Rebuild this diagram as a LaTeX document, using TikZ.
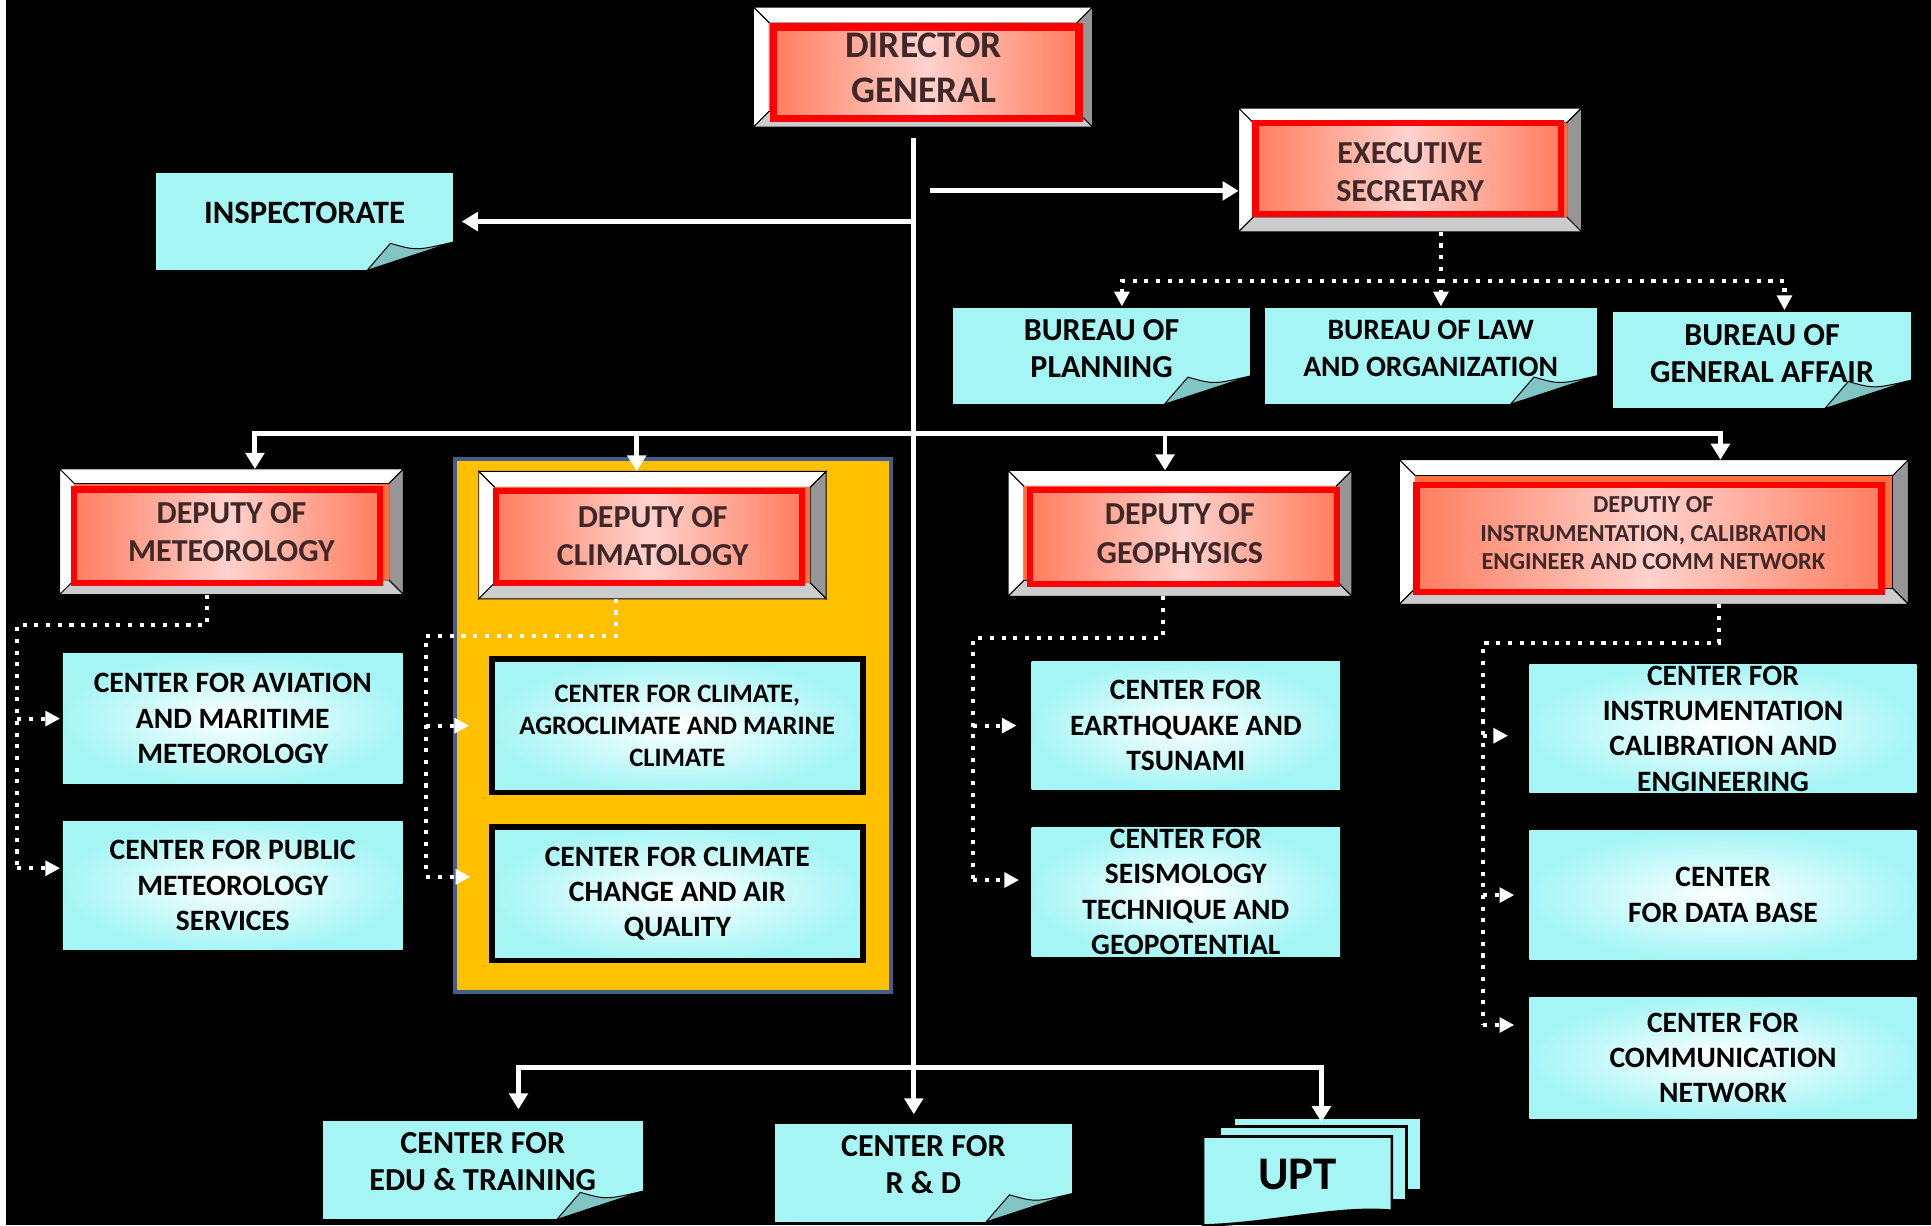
\documentclass[tikz,border=0pt]{standalone}
\usepackage{fontspec}
\setmainfont{Carlito}
\usepackage{tikz}
\usetikzlibrary{positioning,arrows.meta,calc}

\definecolor{notecyan}{RGB}{166,245,245}
\definecolor{foldteal}{RGB}{128,196,196}
\definecolor{climgold}{RGB}{255,192,0}
\definecolor{climedge}{RGB}{65,95,140}
\definecolor{bevdark}{RGB}{150,150,150}
\definecolor{bevlight}{RGB}{204,204,204}
\definecolor{depface}{RGB}{255,110,60}
\definecolor{depedge}{RGB}{255,125,95}
\definecolor{depmid}{RGB}{255,210,205}
\definecolor{deptext}{RGB}{64,40,40}

\newcommand{\bsize}[2]{\fontsize{#1}{#2}\selectfont\bfseries}

% bevelled frame round an empty holder node: #1 node, #2 bevel width
\newcommand{\bevel}[2]{%
  \coordinate (bnw) at (#1.north west);
  \coordinate (bne) at (#1.north east);
  \coordinate (bsw) at (#1.south west);
  \coordinate (bse) at (#1.south east);
  \filldraw[fill=white, draw=black, line width=0.8pt]
    (bnw) -- (bne) -- ($(bne)+(-#2,#2)$) -- ($(bnw)+(#2,#2)$) -- cycle;
  \filldraw[fill=white, draw=black, line width=0.8pt]
    (bnw) -- ($(bnw)+(#2,#2)$) -- ($(bsw)+(#2,-#2)$) -- (bsw) -- cycle;
  \filldraw[fill=bevdark, draw=black, line width=0.8pt]
    (bne) -- (bse) -- ($(bse)+(-#2,-#2)$) -- ($(bne)+(-#2,#2)$) -- cycle;
  \filldraw[fill=bevlight, draw=black, line width=0.8pt]
    (bsw) -- (bse) -- ($(bse)+(-#2,-#2)$) -- ($(bsw)+(#2,-#2)$) -- cycle;
  \fill[depface] ($(bnw)+(#2,#2)$) rectangle ($(bse)+(-#2,-#2)$);
}

% peeled corner of a note node
\newcommand{\peel}[1]{%
  \fill[black] ($(#1.south east)+(-70,0)$) -- (#1.south east)
    -- ($(#1.south east)+(0,-23)$) -- cycle;
  \filldraw[fill=foldteal, draw=black, line width=0.8pt]
    ($(#1.south east)+(-70,0)$) -- ($(#1.south east)+(-51,-22)$)
    .. controls ($(#1.south east)+(-30,-16)$) .. ($(#1.south east)+(0,-23)$) -- cycle;
}

\begin{document}
\begin{tikzpicture}[
    x=1pt, y=-1pt,
    ln/.style     = {white, line width=4pt},
    arr/.style    = {ln, -{Triangle[width=15pt,length=13pt]}},
    dotln/.style  = {white, line width=3.3pt, dash pattern=on 3.3pt off 6.2pt},
    dotarr/.style = {dotln, -{Triangle[width=12pt,length=12pt]}},
    holder/.style = {rectangle, inner sep=0pt},
    dep/.style    = {rectangle, inner sep=0pt, draw=red, line width=5pt,
                     left color=depedge, right color=depedge, middle color=depmid},
    deptxt/.style = {align=center, text=deptext, font=\bsize{26}{31}},
    note/.style   = {rectangle, inner sep=0pt, fill=notecyan},
    ntxt/.style   = {align=center, text=black, font=\bsize{26}{30}},
    ctr/.style    = {rectangle, inner sep=0pt, inner color=white, outer color=notecyan,
                     align=center, text=black, font=\bsize{24}{28.7}},
    cbox/.style   = {ctr, draw=black, line width=4.6pt},
    page/.style   = {rectangle, inner sep=0pt, fill=notecyan, draw=black, line width=2.2pt},
]

%% ── Background ────────────────────────────────────────────────────────────
\fill[white] (0,0) rectangle (5,995);
\fill[black] (5,0) rectangle (1568,995);
\useasboundingbox (0,0) rectangle (1568,995);

%% ── Director General ──────────────────────────────────────────────────────
\node[holder, minimum width=275pt, minimum height=97pt] (dgf) at (749.5,54.5) {};
\bevel{dgf}{13}
\node[dep, line width=6pt, minimum width=248pt, minimum height=74pt] (dg) at (752,59) {};
\node[deptxt, font=\bsize{30.5}{36}, at=(dg.center), xshift=-2pt, yshift=4pt]
  {DIRECTOR\\GENERAL};

\coordinate (trunk) at (742,112);

%% ── Inspectorate ──────────────────────────────────────────────────────────
\node[note, minimum width=241pt, minimum height=79pt] (insp) at (247.3,179.9) {};
\peel{insp}
\node[ntxt, font=\bsize{26.5}{30}, at=(insp.center), yshift=7pt] {INSPECTORATE};
\draw[arr, shorten >=7pt] (trunk |- insp.east) -- (insp.east);

%% ── Executive secretary ───────────────────────────────────────────────────
\node[holder, minimum width=278pt, minimum height=100pt] (esf) at (1145,138) {};
\bevel{esf}{12}
\node[dep, minimum width=248pt, minimum height=74pt] (es) at (1143.5,137) {};
\node[deptxt, at=(es.center), xshift=1.5pt, yshift=-2.5pt] {EXECUTIVE\\SECRETARY};

\coordinate (esrc) at (755,155);
\draw[arr] (esrc) -- (esrc -| esf.west);

%% ── Bureaus ───────────────────────────────────────────────────────────────
\node[note, minimum width=241.8pt, minimum height=78pt]   (bplan) at (894.5,289) {};
\node[note, minimum width=269.4pt, minimum height=78pt]   (blaw)  at (1161.7,289) {};
\node[note, minimum width=241.6pt, minimum height=78.5pt] (bga)   at (1430.8,292.3) {};
\peel{bplan}
\peel{blaw}
\peel{bga}
\node[ntxt, at=(bplan.center), yshift=6pt] {BUREAU OF\\PLANNING};
\node[ntxt, font=\bsize{24}{30}, at=(blaw.center), yshift=6pt]
  {BUREAU OF LAW\\AND ORGANIZATION};
\node[ntxt, at=(bga.center), yshift=5pt] {BUREAU OF\\GENERAL AFFAIR};

\coordinate (bj) at (1170,228);
\coordinate (bl) at (911,228);
\coordinate (br) at (1449,228);
\draw[dotarr, shorten >=1pt] (bj |- esf.south) -- (bj) -- (bj |- blaw.north);
\draw[dotarr, shorten >=1pt] (bj) -- (bl) -- (bl |- bplan.north);
\draw[dotarr, shorten >=1pt] (bj) -- (br) -- (br |- bga.north);

%% ── Deputy of meteorology ─────────────────────────────────────────────────
\node[holder, minimum width=278.7pt, minimum height=101.6pt] (dmf) at (188,431.8) {};
\bevel{dmf}{12}
\node[dep, minimum width=248.7pt, minimum height=75.8pt] (dm) at (184.5,435.4) {};
\node[deptxt, at=(dm.center), xshift=3.5pt, yshift=3pt] {DEPUTY OF\\METEOROLOGY};

\node[ctr, minimum width=276pt, minimum height=105pt] (cav) at (189,583.5)
  {CENTER FOR AVIATION\\AND MARITIME\\METEOROLOGY};
\node[ctr, minimum width=276pt, minimum height=104pt] (cpub) at (189,719)
  {CENTER FOR PUBLIC\\METEOROLOGY\\SERVICES};

\coordinate (mt)  at (168,507.5);
\coordinate (mj)  at (14,507.5);
\coordinate (mjb) at (14,705);
\draw[dotln] (mt |- dmf.south) -- (mt) -- (mj) -- (mjb);
\draw[dotarr, shorten >=2pt] (mj |- cav.west) -- (cav.west);
\draw[dotarr, shorten >=2pt] (mjb) -- (mjb -| cpub.west);

%% ── Deputy of climatology (yellow group) ──────────────────────────────────
\node[rectangle, fill=climgold, draw=climedge, line width=3pt,
      minimum width=354pt, minimum height=433pt] (climbg) at (546.5,589) {};
\node[holder, minimum width=281.7pt, minimum height=103pt] (dcf) at (529.8,434.5) {};
\bevel{dcf}{13}
\node[dep, minimum width=248pt, minimum height=75pt] (dc) at (527,436) {};
\node[deptxt, at=(dc.center), xshift=3pt, yshift=1pt] {DEPUTY OF\\CLIMATOLOGY};

\node[cbox, font=\bsize{21.6}{25.7}, minimum width=301.4pt, minimum height=108.6pt]
  (cca) at (550,589.3) {CENTER FOR CLIMATE,\\AGROCLIMATE AND MARINE\\CLIMATE};
\node[cbox, minimum width=301.4pt, minimum height=108.5pt]
  (ccc) at (550,725.6) {CENTER FOR CLIMATE\\CHANGE AND AIR\\QUALITY};

\coordinate (ct)  at (500,516.2);
\coordinate (cj)  at (346,516.2);
\coordinate (cjb) at (346,712);
\draw[dotln] (ct |- dcf.south) -- (ct) -- (cj) -- (cjb);
\draw[dotarr, shorten >=16pt] (cj |- cca.west) -- (cca.west);
\draw[dotarr, shorten >=15pt] (cjb) -- (cjb -| ccc.west);

%% ── Deputy of geophysics ──────────────────────────────────────────────────
\node[holder, minimum width=278.8pt, minimum height=101.8pt] (dgpf) at (958.2,433.1) {};
\bevel{dgpf}{13}
\node[dep, minimum width=248.7pt, minimum height=76.2pt] (dgp) at (961,435.8) {};
\node[deptxt, at=(dgp.center), xshift=-3pt, yshift=2.5pt] {DEPUTY OF\\GEOPHYSICS};

\node[ctr, minimum width=250.4pt, minimum height=103.7pt] (ceq) at (962.9,589.2)
  {CENTER FOR\\EARTHQUAKE AND\\TSUNAMI};
\node[ctr, minimum width=250.4pt, minimum height=104.2pt] (cseis) at (962.9,724.2)
  {CENTER FOR\\SEISMOLOGY\\TECHNIQUE AND\\GEOPOTENTIAL};

\coordinate (gt)  at (944,518.3);
\coordinate (gj)  at (790,518.3);
\coordinate (gjb) at (790,714.6);
\draw[dotln] (gt |- dgpf.south) -- (gt) -- (gj) -- (gjb);
\draw[dotarr, shorten >=12pt] (gj |- ceq.west) -- (ceq.west);
\draw[dotarr, shorten >=10pt] (gjb) -- (gjb -| cseis.west);

%% ── Deputy of instrumentation ─────────────────────────────────────────────
\node[holder, minimum width=413pt, minimum height=117pt] (dif) at (1343,432) {};
\bevel{dif}{13}
\node[dep, minimum width=377.6pt, minimum height=87pt] (di) at (1339,437.5) {};
\node[deptxt, font=\bsize{19.8}{23}, at=(di.center), xshift=3.5pt, yshift=4.5pt]
  {DEPUTIY OF\\INSTRUMENTATION, CALIBRATION\\ENGINEER AND COMM NETWORK};

\node[ctr, minimum width=314.6pt, minimum height=104.2pt] (cins) at (1399.1,591.6)
  {CENTER FOR\\INSTRUMENTATION\\CALIBRATION AND\\ENGINEERING};
\node[ctr, minimum width=314.6pt, minimum height=104.5pt] (cdb) at (1399.1,726.8)
  {CENTER\\FOR DATA BASE};
\node[ctr, minimum width=314.6pt, minimum height=98.2pt] (ccom) at (1399.1,859)
  {CENTER FOR\\COMMUNICATION\\NETWORK};

\coordinate (it)  at (1396,521.9);
\coordinate (ij)  at (1204.5,521.9);
\coordinate (ija) at (1204.5,597.4);
\coordinate (ijb) at (1204.5,832.3);
\draw[dotln] (it |- dif.south) -- (it) -- (ij) -- (ijb);
\draw[dotarr, shorten >=17pt] (ija) -- (ija -| cins.west);
\draw[dotarr, shorten >=12pt] (ij |- cdb.west) -- (cdb.west);
\draw[dotarr, shorten >=12pt] (ijb) -- (ijb -| ccom.west);

%% ── Deputy bus ────────────────────────────────────────────────────────────
\coordinate (busl) at (207,352);
\coordinate (busc) at (517,352);
\coordinate (busg) at (946,352);
\coordinate (busr) at (1397,352);
\draw[arr] (busr) -- (busl) -- (busl |- dmf.north);
\draw[arr] (busl) -- (busr) -- (busr |- dif.north);
\draw[arr] (busc) -- (busc |- dcf.north);
\draw[arr] (busg) -- (busg |- dgpf.north);

%% ── Bottom centres ────────────────────────────────────────────────────────
\node[note, minimum width=260pt, minimum height=80pt] (edu) at (392,950) {};
\peel{edu}
\node[ntxt, at=(edu.center), yshift=7pt] {CENTER FOR\\EDU \& TRAINING};

\node[note, minimum width=241.5pt, minimum height=79pt] (rd) at (749.75,952.5) {};
\peel{rd}
\node[ntxt, at=(rd.center), yshift=6.5pt] {CENTER FOR\\R \& D};

\node[page, minimum width=152.9pt, minimum height=59pt] (upt3) at (1078,936.8) {};
\node[page, minimum width=152.3pt, minimum height=60pt] (upt2) at (1066.2,945) {};
\node[holder, minimum width=153pt, minimum height=72pt] (upt) at (1053.5,959) {};
\filldraw[fill=notecyan, draw=black, line width=2.2pt]
  (upt.north west) -- (upt.north east) -- ($(upt.south east)+(0,-12)$)
  .. controls ($(upt.south east)+(-45,-16)$) and ($(upt.south west)+(60,-2)$) .. (upt.south west)
  -- cycle;
\node[font=\bsize{38}{40}, at=(upt.center), yshift=5pt] {UPT};

%% ── Trunk and bottom bus ──────────────────────────────────────────────────
\coordinate (bbl) at (421,867);
\coordinate (bbr) at (1073,867);
\draw[arr, shorten >=8pt] (trunk) -- (trunk |- rd.north);
\draw[arr, shorten >=9pt] (bbr) -- (bbl) -- (bbl |- edu.north);
\draw[arr, shorten >=-5pt] (bbl) -- (bbr) -- (bbr |- upt3.north);

\end{tikzpicture}
\end{document}
